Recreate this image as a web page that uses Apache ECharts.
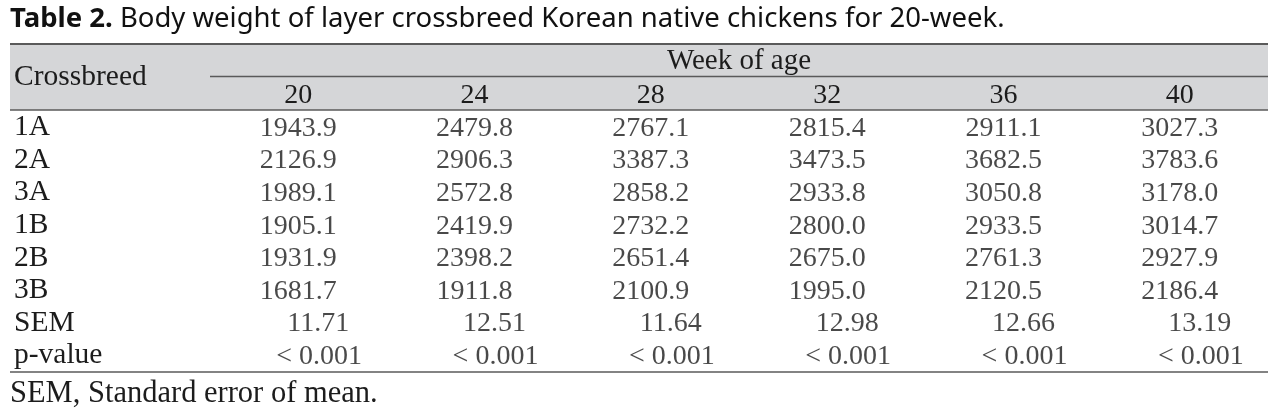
<!DOCTYPE html>
<html><head><meta charset="utf-8">
<script src="https://cdn.jsdelivr.net/npm/echarts@6/dist/echarts.min.js"></script>
<style>html,body{margin:0;padding:0;background:#fff}#c{width:1288px;height:415px}</style>
</head><body><div id="c"></div>
<script>
var weeks = ['20', '24', '28', '32', '36', '40'];
var rows = ['1A', '2A', '3A', '1B', '2B', '3B', 'SEM', 'p-value'];
var w1A = [1943.9, 2479.8, 2767.1, 2815.4, 2911.1, 3027.3];
var w2A = [2126.9, 2906.3, 3387.3, 3473.5, 3682.5, 3783.6];
var w3A = [1989.1, 2572.8, 2858.2, 2933.8, 3050.8, 3178.0];
var w1B = [1905.1, 2419.9, 2732.2, 2800.0, 2933.5, 3014.7];
var w2B = [1931.9, 2398.2, 2651.4, 2675.0, 2761.3, 2927.9];
var w3B = [1681.7, 1911.8, 2100.9, 1995.0, 2120.5, 2186.4];
var sem = [11.71, 12.51, 11.64, 12.98, 12.66, 13.19];
var pval = ['< 0.001', '< 0.001', '< 0.001', '< 0.001', '< 0.001', '< 0.001'];

var serif = '"Liberation Serif", "DejaVu Serif", serif';
var txtColor = '#1c1c1c';
var fsNum = 28;
var fsTxt = 29.5;
var ruleColor = '#5a5a5a';

var breedSets = [w1A, w2A, w3A, w1B, w2B, w3B];
var meanData = [];
breedSets.forEach(function (arr, r) {
  arr.forEach(function (v, c) { meanData.push([c, r, v.toFixed(1)]); });
});
var semData = sem.map(function (v, c) { return [c, 6, v.toFixed(2)]; });
var pData = pval.map(function (v, c) { return [c, 7, v]; });

function cellLabel(off) {
  return {
    show: true, position: 'inside', offset: [off, 1],
    formatter: function (p) { return p.value[2]; },
    fontFamily: serif, fontSize: fsNum, color: txtColor
  };
}

var chart = echarts.init(document.getElementById('c'));
chart.setOption({
  backgroundColor: '#fff',
  animation: false,
  graphic: [
    { type: 'rect', z: -10, shape: { x: 10, y: 44, width: 1258, height: 66 }, style: { fill: '#d5d6d8' } },
    { type: 'line', shape: { x1: 10, y1: 44, x2: 1268, y2: 44 }, style: { stroke: ruleColor, lineWidth: 2 } },
    { type: 'line', shape: { x1: 210, y1: 76.5, x2: 1268, y2: 76.5 }, style: { stroke: ruleColor, lineWidth: 1.5 } },
    { type: 'line', shape: { x1: 10, y1: 110, x2: 1268, y2: 110 }, style: { stroke: ruleColor, lineWidth: 1.5 } },
    { type: 'line', shape: { x1: 10, y1: 372, x2: 1268, y2: 372 }, style: { stroke: ruleColor, lineWidth: 1.5 } },
    { type: 'text', left: 10, top: 5, style: {
        text: '{b|Table 2.} Body weight of layer crossbreed Korean native chickens for 20-week.',
        rich: { b: { fontWeight: 'bold', fontFamily: '"Noto Sans", sans-serif', fontSize: 27.5, fill: '#111' } },
        font: '27.5px "Noto Sans", sans-serif', fill: '#111' } },
    { type: 'text', x: 14, y: 77, style: { text: 'Crossbreed', font: fsTxt + 'px ' + serif, fill: txtColor, verticalAlign: 'middle' } },
    { type: 'text', x: 739, y: 61, style: { text: 'Week of age', font: '29px ' + serif, fill: txtColor, align: 'center', verticalAlign: 'middle' } },
    { type: 'text', x: 10, y: 394, style: { text: 'SEM, Standard error of mean.', font: '30.5px ' + serif, fill: txtColor, verticalAlign: 'middle' } }
  ],
  grid: { left: 210, right: 20, top: 111, bottom: 43, containLabel: false },
  xAxis: {
    type: 'category', data: weeks, position: 'top',
    axisLine: { show: false }, axisTick: { show: false }, splitLine: { show: false },
    axisLabel: { fontFamily: serif, fontSize: fsNum, color: txtColor, margin: 1 }
  },
  yAxis: {
    type: 'category', data: rows, inverse: true,
    axisLine: { show: false }, axisTick: { show: false }, splitLine: { show: false },
    axisLabel: { interval: 0, fontFamily: serif, fontSize: fsTxt, color: txtColor, align: 'left', margin: 196, padding: [3, 0, 0, 0] }
  },
  series: [
    { type: 'scatter', symbolSize: 0, data: meanData, label: cellLabel(0) },
    { type: 'scatter', symbolSize: 0, data: semData, label: cellLabel(20) },
    { type: 'scatter', symbolSize: 0, data: pData, label: cellLabel(21) }
  ]
});
</script></body></html>
